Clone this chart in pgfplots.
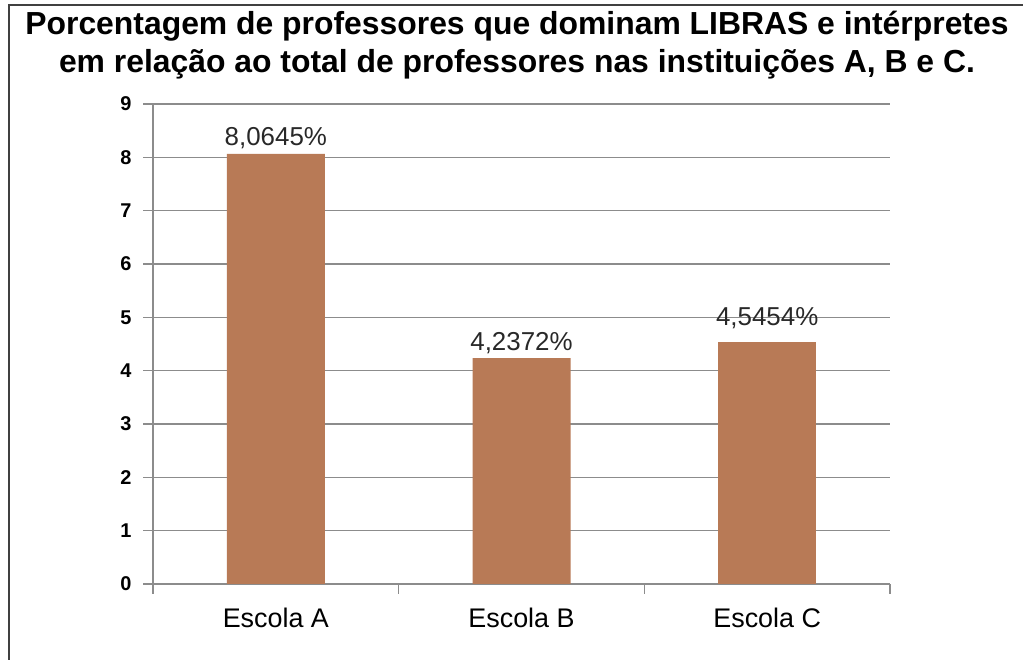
\documentclass[border=0pt]{standalone}
\usepackage{pgfplots}
\pgfplotsset{compat=1.18}
\usepackage{fontspec}
\setmainfont{Liberation Sans}
\definecolor{barc}{RGB}{184,122,86}
\definecolor{gridc}{RGB}{140,140,140}
\definecolor{framec}{RGB}{64,64,64}
\definecolor{labc}{RGB}{40,40,40}
\begin{document}
\begin{tikzpicture}[x=1bp,y=1bp]
\useasboundingbox (0,0) rectangle (1023,660);
\draw[line width=2.5bp, color=framec] (9,0) -- (9,655) -- (1023,655);
\node[font=\bfseries\fontsize{32}{38}\selectfont, align=center, inner sep=0] at (517,615) {Porcentagem de professores que dominam LIBRAS e intérpretes\\em relação ao total de professores nas instituições A, B e C.};
\begin{axis}[
  at={(153bp,76bp)}, anchor=south west,
  width=737bp, height=480bp, scale only axis,
  xmin=-0.5, xmax=2.5, ymin=0, ymax=9,
  enlargelimits=false,
  axis x line*=bottom, axis y line*=left,
  axis line style={gridc, line width=1.5bp, -},
  ytick={0,1,...,9},
  ymajorgrids, grid style={gridc, line width=1.5bp},
  tick align=outside, major tick length=10bp,
  tick style={gridc, line width=1.5bp},
  yticklabel style={font=\bfseries\fontsize{20}{24}\selectfont, xshift=-8bp},
  /pgf/number format/assume math mode=true,
  xtick={-0.5,0.5,1.5,2.5}, xticklabels={},
  extra x ticks={0,1,2},
  extra x tick labels={Escola A,Escola B,Escola C},
  extra x tick style={major tick length=0bp, tick style={draw=none},
     xticklabel style={font=\fontsize{27}{32}\selectfont, yshift=-20bp}},
]
\addplot[ybar, bar width=98bp, fill=barc, draw=none,
  nodes near coords, point meta=explicit symbolic,
  nodes near coords style={font=\fontsize{26}{30}\selectfont, color=labc, anchor=base, yshift=8bp, inner sep=0}]
  table[meta=label]{
x y label
0 8.0645 8,0645\%
1 4.2372 4,2372\%
};
\addplot[ybar, bar width=98bp, fill=barc, draw=none,
  nodes near coords, point meta=explicit symbolic,
  nodes near coords style={font=\fontsize{26}{30}\selectfont, color=labc, anchor=base, yshift=16bp, inner sep=0}]
  table[meta=label]{
x y label
2 4.5454 4,5454\%
};
\end{axis}
\end{tikzpicture}
\end{document}
